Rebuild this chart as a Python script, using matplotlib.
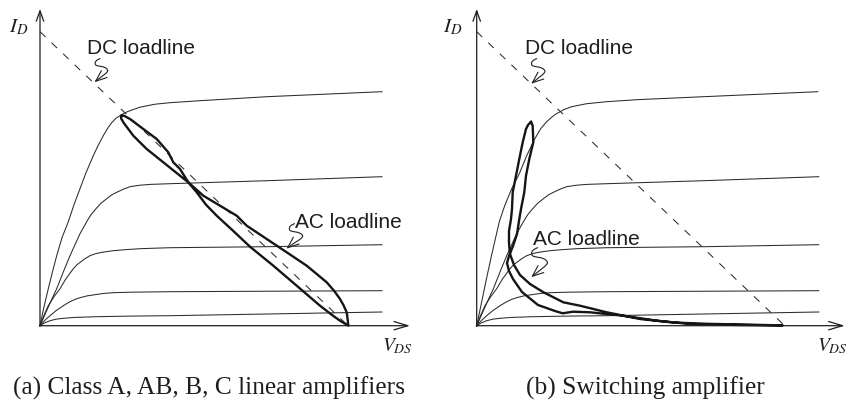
import numpy as np
import matplotlib
matplotlib.use("Agg")
import matplotlib.pyplot as plt
from matplotlib.path import Path
from matplotlib.patches import FancyArrowPatch

plt.rcParams['mathtext.fontset'] = 'stix'
plt.rcParams['lines.scale_dashes'] = False

# ---- Output characteristics I_D(V_DS) (arbitrary units), one per gate drive ----
c1_v = [0, 4, 8.3, 12.5, 16.7, 22, 28.3, 34, 40, 46, 53.3, 58, 63.3, 68, 71.7, 76, 80,
        85, 90, 100, 115, 130, 160, 227, 342]
c1_i = [0, 19, 37, 54, 70, 88, 104, 121, 137, 153, 170, 180, 190, 198, 203, 207.5, 210,
        213, 215, 218.5, 221.5, 223, 225, 229, 234]
c1b_v = [0, 5, 10, 15, 22.6, 28, 35, 42.6, 50, 57.6, 64, 70, 75, 79.3, 87, 95, 110, 130,
         160, 227, 341]
c1b_i = [0, 24, 48, 71, 104, 120, 137, 152, 170, 186, 197, 204, 208.5, 211.7, 216, 219,
         222, 224, 226, 229, 234]
c2_v = [0, 4, 8, 12, 16.7, 23, 30, 35, 40, 46.7, 51, 56, 61, 66.7, 72, 78, 84, 90, 100,
        110, 130, 227, 342]
c2_i = [0, 9, 18, 27, 37, 53, 70, 81, 92, 104, 111, 117, 122.5, 127, 131, 134, 136.8, 139,
        140.5, 141.3, 142, 145, 149]
c3_v = [0, 4, 8.3, 14, 20, 26, 33.3, 37, 41, 45, 50, 55, 60, 66, 73.3, 85, 100, 130, 227,
        342]
c3_i = [0, 10.5, 20, 29, 37, 47, 57, 61, 64, 67, 70, 71.8, 73, 74, 75, 76, 77, 78, 79, 81]
c4_v = [0, 5, 10, 16, 23.3, 30, 35, 40, 47, 55, 64, 73.3, 90, 130, 342]
c4_i = [0, 5.5, 10, 15, 20, 24, 26.3, 28, 29.8, 31, 32.3, 33, 33.5, 34, 35]
c5_v = [0, 4, 10, 16, 23.3, 35, 56.7, 90, 130, 342]
c5_i = [0, 2.5, 5, 6.5, 7.4, 8.3, 9, 9.6, 10, 13.7]

# DC load line
dc_v = [0, 308]
dc_i = [294, 0]

# Signal trajectory, linear amplifier (closed loop)
lin_v = [81.7, 84, 90, 103.3, 116.7, 128.3, 133.3, 140, 148.3, 156.7, 166, 176.7, 193, 210,
         233.3, 256.7, 280, 293, 300, 304.5, 307.5, 308.3, 307.8, 306.7, 303.5, 300, 294,
         286.7, 266.7, 246.7, 226.7, 206.7, 196.7, 180, 163.3, 148.3, 140, 123.3, 106.7,
         93.3, 83.3, 81, 81.7]
lin_i = [210, 210, 206.7, 196.7, 186.7, 173.4, 163.4, 156.7, 143.4, 133.4, 121, 110, 95, 79,
         60, 40, 20, 10, 5, 2.3, 0.7, 0, 5, 13.4, 20.5, 26.7, 35,
         43.4, 60, 73.4, 86.7, 100, 110, 120, 130, 143.4, 150, 163.4, 176.7,
         190, 203.4, 207.5, 210]

# Signal trajectory, switching amplifier (closed loop)
sw_v = [54.3, 56, 56.6, 52.6, 49.3, 47.6, 44.3, 42.6, 40.3, 36.3, 32.3, 30.3, 32.3, 36.3,
        45.3, 61.3, 78.3, 86, 96.3, 113.3, 146.3, 180.3, 213.3, 263.3, 306,
        263.3, 230, 196.6, 163.3, 130, 103.3, 86.6, 66.3, 53.3, 43.3, 37.3, 33.3, 32.3,
        32.3, 34.3, 35.3, 36, 39.3, 42.6, 46, 49.3, 51.5, 54.3]
sw_i = [203.7, 200, 183.4, 166.7, 150, 133.4, 116.7, 106.7, 91.7, 79.7, 69.7, 62.7, 54.7, 46.7,
        33.7, 20.7, 14.7, 12.4, 14, 13.4, 10, 5, 1.7, 0.7, 0.3,
        1.2, 1.9, 3.2, 6.7, 13.4, 20, 23.4, 33.7, 41.7, 50.7, 60.7, 71.7, 82.7,
        94.7, 106.7, 116.7, 133.4, 150, 166.7, 183.4, 196.7, 201, 203.7]

CURVE_COL = '#2b2b2b'
LOOP_COL = '#151515'
INK = '#1e1e1e'

fig = plt.figure(figsize=(8.47, 4.02), dpi=100)
axL = fig.add_axes([0, 0, 420 / 847, 1])
axR = fig.add_axes([420 / 847, 0, 427 / 847, 1])
axL.set_xlim(-40, 380)
axR.set_xlim(-56.7, 370.3)
for ax in (axL, axR):
    ax.set_ylim(-75.3, 326.7)
    ax.axis('off')


def squiggle(ax, x0, y0, tip):
    """Wavy pointer from (x0, y0) ending with an open arrowhead at tip."""
    tx, ty = tip
    s = (y0 - ty) / 25.0
    rel = [(0, 0),
           (-3, -1), (-6, -3), (-5, -6),
           (-4, -9), (6, -7), (8, -12)]
    verts = [(x0 + s * a, y0 + s * b) for a, b in rel]
    verts += [(x0 + 10 * s, y0 - 14 * s), (tx + 6 * s, ty + 5 * s), (tx, ty)]
    codes = [Path.MOVETO] + [Path.CURVE4] * 9
    p = FancyArrowPatch(path=Path(verts, codes),
                        arrowstyle='->,head_length=0.8,head_width=0.32',
                        mutation_scale=10, lw=0.8, color=INK,
                        shrinkA=0, shrinkB=0)
    ax.add_patch(p)


def draw_frame(ax, xtip, ix, vx):
    ax.annotate('', xy=(0, 316.7), xytext=(0, -0.5),
                arrowprops=dict(arrowstyle='->,head_length=0.75,head_width=0.27',
                                mutation_scale=10, lw=0.9, color=INK,
                                shrinkA=0, shrinkB=0))
    ax.annotate('', xy=(xtip, 0), xytext=(-0.5, 0),
                arrowprops=dict(arrowstyle='->,head_length=1.0,head_width=0.3',
                                mutation_scale=10, lw=0.9, color=INK,
                                shrinkA=0, shrinkB=0))
    ax.text(ix, 294, r'$I_D$', fontsize=15, ha='left', va='baseline', color=INK)
    ax.text(vx, -25, r'$V_{DS}$', fontsize=14, ha='left', va='baseline',
            color=INK, clip_on=False)


def draw_family(ax, first):
    ax.plot(first[0], first[1], color=CURVE_COL, lw=0.75)
    for v, i in ((c2_v, c2_i), (c3_v, c3_i), (c4_v, c4_i), (c5_v, c5_i)):
        ax.plot(v, i, color=CURVE_COL, lw=0.75)
    ax.plot(dc_v, dc_i, color=CURVE_COL, lw=0.75, dashes=(5.5, 6))


LABEL_FONT = dict(fontsize=15, family='Liberation Sans', ha='left', va='baseline',
                  color=INK)

# (a) linear amplifier
draw_frame(axL, 370, -31, 342)
draw_family(axL, (c1_v, c1_i))
axL.plot(lin_v, lin_i, color=LOOP_COL, lw=1.7, solid_joinstyle='round')
axL.text(46.7, 272.4, 'DC loadline', **LABEL_FONT)
squiggle(axL, 60, 267, (54.5, 243.5))
axL.text(255, 98.4, 'AC loadline', **LABEL_FONT)
squiggle(axL, 254.5, 102, (246.5, 77))

# (b) switching amplifier
draw_frame(axR, 368, -34, 340)
draw_family(axR, (c1b_v, c1b_i))
axR.plot(sw_v, sw_i, color=LOOP_COL, lw=1.7, solid_joinstyle='round')
axR.text(48.3, 272.4, 'DC loadline', **LABEL_FONT)
squiggle(axR, 60, 267, (54.5, 242))
axR.text(56.7, 81.7, 'AC loadline', **LABEL_FONT)
squiggle(axR, 61, 78, (54.5, 48.5))

fig.text(209 / 847, 7 / 402, '(a) Class A, AB, B, C linear amplifiers',
         fontsize=18.3, family='Liberation Serif', ha='center', va='baseline',
         color=INK)
fig.text(645 / 847, 7 / 402, '(b) Switching amplifier',
         fontsize=18.3, family='Liberation Serif', ha='center', va='baseline',
         color=INK)

fig.savefig('out.png', dpi=100, facecolor='white')
